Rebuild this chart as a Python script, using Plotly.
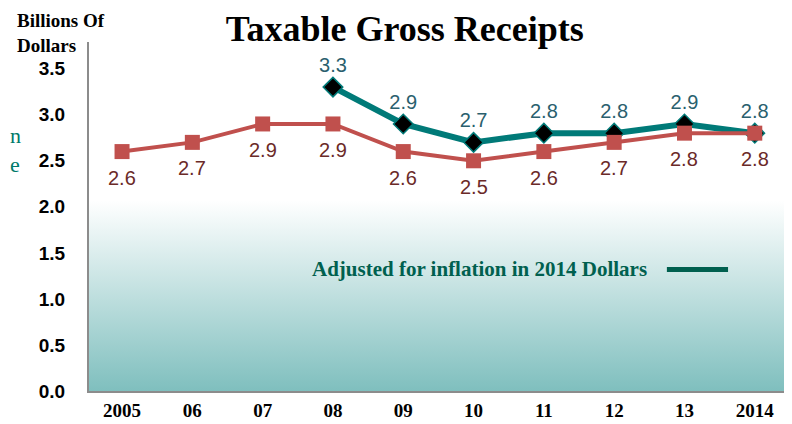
import plotly.graph_objects as go

years = list(range(10))
year_labels = ['2005', '06', '07', '08', '09', '10', '11', '12', '13', '2014']
nominal = [2.6, 2.7, 2.9, 2.9, 2.6, 2.5, 2.6, 2.7, 2.8, 2.8]
adj_years = [3, 4, 5, 6, 7, 8, 9]
adjusted = [3.3, 2.9, 2.7, 2.8, 2.8, 2.9, 2.8]
y_ticks = [0, 0.5, 1, 1.5, 2, 2.5, 3, 3.5]

x_lo, x_hi = -0.47, 9.43
y_top = 3.79
serif = 'Liberation Serif, Times New Roman, serif'
sans = 'Liberation Sans, Arial, sans-serif'

fig = go.Figure()

# gradient backdrop in the lower part of the plot
fig.add_trace(go.Scatter(
    x=[x_lo, x_hi, x_hi, x_lo, x_lo], y=[0, 0, 2.07, 2.07, 0],
    mode='lines', line=dict(width=0), fill='toself',
    fillgradient=dict(type='vertical', start=0, stop=2.07,
                      colorscale=[[0, '#7fbfbe'], [1, '#ffffff']]),
    hoverinfo='skip', showlegend=False
))

fig.add_trace(go.Scatter(
    x=adj_years, y=adjusted, mode='lines+markers+text',
    text=[f'{v:.1f}' for v in adjusted], textposition='top center',
    textfont=dict(family=sans, size=20, color='#2a5f6e'),
    line=dict(color='#007a78', width=6),
    marker=dict(symbol='diamond', size=15, color='black',
                line=dict(color='#007a78', width=1.5)),
    showlegend=False
))

fig.add_trace(go.Scatter(
    x=years, y=nominal, mode='lines+markers',
    line=dict(color='#c0504d', width=4),
    marker=dict(symbol='square', size=15, color='#c0504d'),
    showlegend=False
))

# value labels under the red series
for xv, yv in zip(years, nominal):
    fig.add_annotation(x=xv, y=yv, text=f'{yv:.1f}', showarrow=False,
                       yshift=-26, font=dict(family=sans, size=20, color='#6b2a28'))

# legend-like note
fig.add_annotation(x=0.318, xref='paper', y=1.32, yref='y',
                   text='<b>Adjusted for inflation in 2014 Dollars</b>',
                   showarrow=False, xanchor='left',
                   font=dict(family=serif, size=21, color='#00604f'))
fig.add_shape(type='line', xref='x', yref='y', x0=7.75, x1=8.62, y0=1.32, y1=1.32,
              line=dict(color='#00604f', width=5))

# y-axis title at the top-left
fig.add_annotation(x=0, xref='paper', xshift=-74, y=1, yref='paper', yshift=34,
                   text='<b>Billions Of<br>Dollars</b>', showarrow=False,
                   xanchor='left', yanchor='top', align='left',
                   font=dict(family=serif, size=19, color='black'))

# clipped words at the left edge
fig.add_annotation(x=0, xref='paper', xshift=-81, y=2.78, yref='y', text='n',
                   showarrow=False, xanchor='left',
                   font=dict(family=serif, size=22, color='#007a6a'))
fig.add_annotation(x=0, xref='paper', xshift=-81, y=2.46, yref='y', text='e',
                   showarrow=False, xanchor='left',
                   font=dict(family=serif, size=22, color='#007a6a'))

# page body has an 8px margin, so the figure is sized to fit the window
fig.update_layout(
    width=784, height=416,
    margin=dict(l=81, r=7, t=34, b=33),
    paper_bgcolor='white', plot_bgcolor='white',
    title=dict(text='<b>Taxable Gross Receipts</b>', x=0.506, xanchor='center',
               y=0.952, yanchor='middle',
               font=dict(family=serif, size=36, color='black')),
    xaxis=dict(range=[x_lo, x_hi], tickmode='array', tickvals=years,
               ticktext=[f'<b>{t}</b>' for t in year_labels],
               showgrid=False, zeroline=False, automargin=False,
               showline=True, linecolor='#8c8c8c', linewidth=2, ticks='',
               ticklabelstandoff=1,
               tickfont=dict(family=serif, size=19, color='black')),
    yaxis=dict(range=[0, y_top], tickmode='array', tickvals=y_ticks,
               ticktext=['<b>%.1f</b>' % v for v in y_ticks],
               showgrid=False, zeroline=False, showline=True, automargin=False,
               linecolor='#8c8c8c', linewidth=2, ticks='', ticklabelstandoff=18,
               tickfont=dict(family=sans, size=19, color='black')),
)

fig.write_html('out.html')
